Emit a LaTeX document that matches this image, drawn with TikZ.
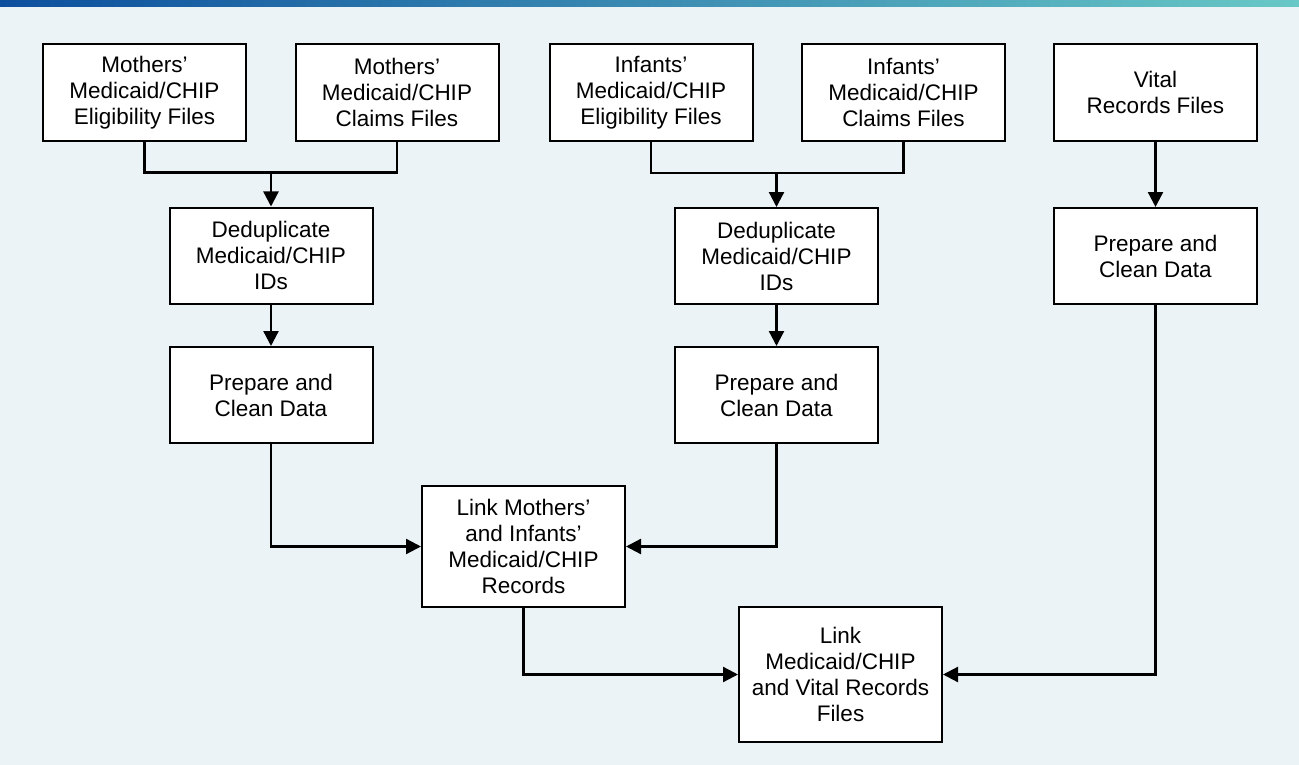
\documentclass[tikz,border=0pt]{standalone}
\usepackage{fontspec}
\setmainfont{Liberation Sans}
\usepackage{tikz}
\usetikzlibrary{positioning, calc, arrows.meta}
\usepackage{xcolor}
\definecolor{pagebg}{HTML}{EBF3F7}
\definecolor{bandleft}{HTML}{0D4F9E}
\definecolor{bandright}{HTML}{68C8C6}
\tikzset{stepbox/.style={draw=black, fill=white, line width=2pt, align=center, inner sep=0pt,
    minimum width=203pt, minimum height=96pt, font=\fontsize{22.5}{26}\selectfont}}
\tikzset{flow/.style={line width=2.3pt, draw=black}}
\tikzset{flowarrow/.style={flow, -{Triangle[length=15pt, width=15pt]}}}

\begin{document}
\begin{tikzpicture}[x=1pt, y=-1pt]
      \fill[pagebg] (0,0) rectangle (1299,765);
      \useasboundingbox (0,0) rectangle (1299,765);
      \shade[left color=bandleft, right color=bandright] (0,0) rectangle (1299,7);

      % source files
      \node[stepbox, minimum height=97pt] (mElig) at (144.5,92.5) {Mothers’\\Medicaid/CHIP\\Eligibility Files};
      \node[stepbox, minimum height=97pt] (mClaims) at (397,92.5) {Mothers’\\Medicaid/CHIP\\Claims Files};
      \node[stepbox, minimum height=97pt] (iElig) at (651,92.5) {Infants’\\Medicaid/CHIP\\Eligibility Files};
      \node[stepbox, minimum height=97pt] (iClaims) at (903.5,92.5) {Infants’\\Medicaid/CHIP\\Claims Files};
      \node[stepbox, minimum height=97pt] (vital) at (1155.5,92.5) {Vital\\Records Files};

      % cleaning steps
      \node[stepbox] (mDedup) at (271,255.5) {Deduplicate\\Medicaid/CHIP\\IDs};
      \node[stepbox] (mPrep) at (271,395) {Prepare and\\Clean Data};
      \node[stepbox] (iDedup) at (776.5,256) {Deduplicate\\Medicaid/CHIP\\IDs};
      \node[stepbox] (iPrep) at (776.5,395) {Prepare and\\Clean Data};
      \node[stepbox] (vPrep) at (1155.5,256) {Prepare and\\Clean Data};

      % linking steps
      \node[stepbox, minimum height=121pt] (linkMI) at (523.5,546.5) {Link Mothers’\\and Infants’\\Medicaid/CHIP\\Records};
      \node[stepbox, minimum height=135pt] (linkAll) at (840.5,674.5) {Link\\Medicaid/CHIP\\and Vital Records\\Files};

      \coordinate (mJoin) at ($(mDedup.north)+(0,-34)$);
      \coordinate (iJoin) at ($(iDedup.north)+(0,-34)$);

      \draw[flow] (mElig.south) |- (mJoin) -| (mClaims.south);
      \draw[flowarrow] (mJoin) -- (mDedup.north);
      \draw[flow] (iElig.south) |- (iJoin) -| (iClaims.south);
      \draw[flowarrow] (iJoin) -- (iDedup.north);
      \draw[flowarrow] (vital) -- (vPrep);

      \draw[flowarrow] (mDedup) -- (mPrep);
      \draw[flowarrow] (iDedup) -- (iPrep);

      \draw[flowarrow] (mPrep.south) |- (linkMI.west);
      \draw[flowarrow] (iPrep.south) |- (linkMI.east);
      \draw[flowarrow] (linkMI.south) |- (linkAll.west);
      \draw[flowarrow] (vPrep.south) |- (linkAll.east);

    \end{tikzpicture}
\end{document}
